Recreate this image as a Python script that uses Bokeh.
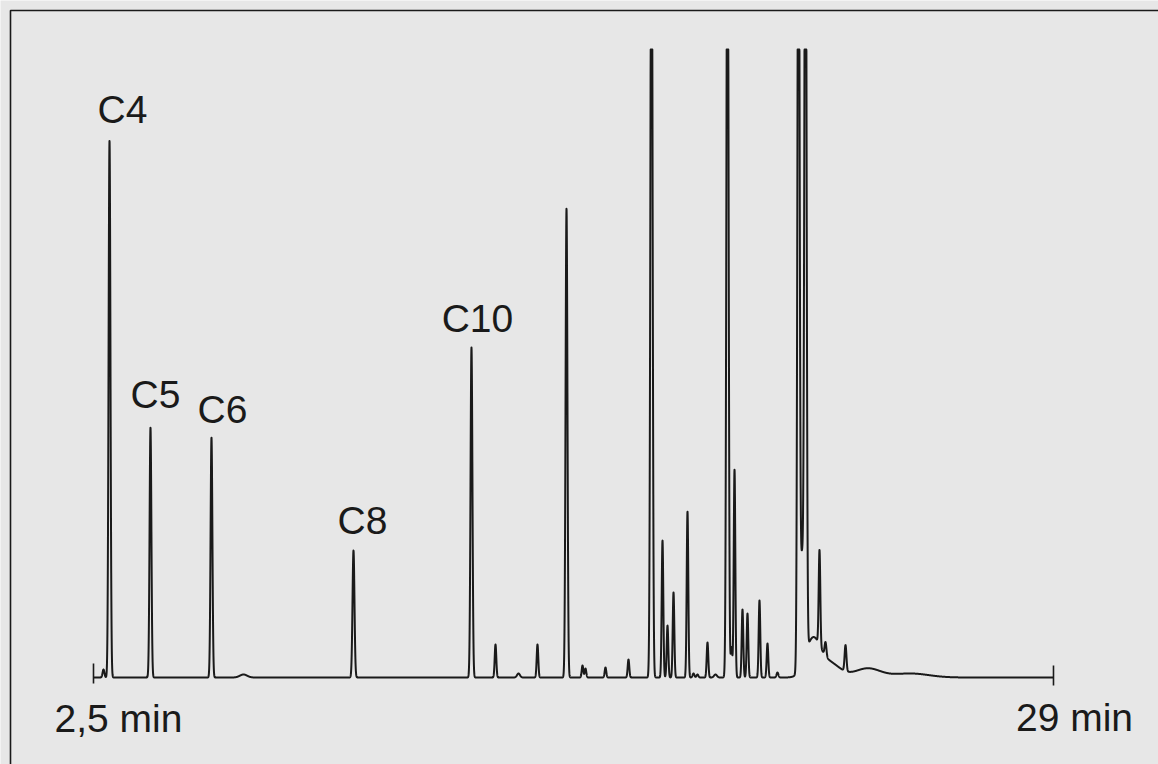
import numpy as np
from bokeh.plotting import figure
from bokeh.models import ColumnDataSource, Range1d
from bokeh.core.properties import value
from bokeh.embed import file_html
from bokeh.resources import INLINE

# ---------------- data ----------------
# retention time (min), peak height (response units), peak width sigma (min)
peak_times = [2.776, 2.942, 4.073, 5.757, 6.641, 9.677, 12.934, 13.597, 14.232,
              14.756, 15.557, 15.999, 16.081, 16.633, 17.268, 17.903, 18.207,
              18.345, 18.511, 18.897, 19.063, 19.173, 19.449, 19.670, 20.001,
              20.112, 20.195, 20.415, 20.553, 20.884, 21.105, 21.381, 21.961,
              22.060, 22.154, 22.348, 22.541, 22.707, 22.790, 23.259, 23.866,
              25.050]
peak_heights = [8, 537, 250, 240, 3, 127, 330, 33, 4,
                33, 469, 12, 9, 10, 18, 900, 137,
                52, 85, 166, 4, 3, 35, 3, 900,
                30, 208, 68, 64, 77, 34, 5, 900,
                110, 900, 35, 95, 14, 15, 26, 9,
                4]
peak_sigmas = [0.025, 0.026, 0.025, 0.025, 0.10, 0.027, 0.026, 0.022, 0.04,
               0.022, 0.026, 0.022, 0.022, 0.022, 0.022, 0.028, 0.022,
               0.022, 0.022, 0.022, 0.025, 0.025, 0.022, 0.04, 0.028,
               0.022, 0.022, 0.022, 0.022, 0.022, 0.022, 0.025, 0.028,
               0.06, 0.028, 0.20, 0.022, 0.025, 0.30, 0.025, 0.35,
               0.50]

label_names = ["C4", "C5", "C6", "C8", "C10"]
label_peak_times = [2.942, 4.073, 5.757, 9.677, 12.934]

axis_start, axis_end = 2.5, 29.0
tick_labels = ["2,5 min", "29 min"]
recorder_max = 628          # pen limit: taller peaks are cut off

# ---------------- layout / style ----------------
W, H = 1158, 764
PX_PER_MIN = 36.226         # horizontal scale
AXIS_LEFT_PX = 93           # pixel column of axis_start
BASE_PX = 677               # pixel row of baseline (from top)
FONT = value("Liberation Sans")
INK = "#1a1a1a"
BG = "#e7e7e7"

x0 = axis_start - AXIS_LEFT_PX / PX_PER_MIN
x1 = x0 + W / PX_PER_MIN
y1 = BASE_PX
y0 = BASE_PX - H

p = figure(width=W, height=H, output_backend="svg", toolbar_location=None,
           x_range=Range1d(x0, x1), y_range=Range1d(y0, y1),
           min_border=0, min_border_left=0, min_border_right=0,
           min_border_top=0, min_border_bottom=0)
p.axis.visible = False
p.grid.visible = False
p.outline_line_color = None
p.background_fill_color = BG
p.border_fill_color = BG

# frame of the recorder paper (top and left edges)
p.line(x=[x0 + 10 / PX_PER_MIN, x0 + 10 / PX_PER_MIN, x1], y=[y0, y1 - 10, y1 - 10],
       line_color=INK, line_width=1.6)

# trace
t = np.arange(axis_start, axis_end + 1e-9, 0.003)
sig = np.zeros_like(t)
for tm, h, s in zip(peak_times, peak_heights, peak_sigmas):
    sig += h * np.exp(-((t - tm) ** 2) / (2 * s * s))
sig = np.minimum(sig, recorder_max)
p.line(x=t, y=sig, line_color=INK, line_width=2, line_join="round")

# end ticks of the time axis
p.segment(x0=[axis_start, axis_end], y0=[-6, -8], x1=[axis_start, axis_end], y1=[14, 12],
          line_color=INK, line_width=1.6)

# tick labels
p.text(x=[axis_start, axis_end], y=[0, 0], text=tick_labels,
       x_offset=[25, 21], y_offset=[41, 40],
       text_font=FONT, text_font_size="39px", text_color=INK,
       text_align="center", text_baseline="alphabetic")

# peak labels
lab_h = [min(peak_heights[peak_times.index(tm)], recorder_max) for tm in label_peak_times]
lab_dx = [13, 5, 11, 9, 6]
lab_dy = [-31, -33, -28, -30, -29]
src = ColumnDataSource(dict(x=label_peak_times, y=lab_h, text=label_names,
                            dx=lab_dx, dy=lab_dy))
p.text(x="x", y="y", text="text", x_offset="dx", y_offset="dy", source=src,
       text_font=FONT, text_font_size="39px", text_color=INK,
       text_align="center", text_baseline="alphabetic")

open("out.html", "w").write(file_html(p, INLINE))
